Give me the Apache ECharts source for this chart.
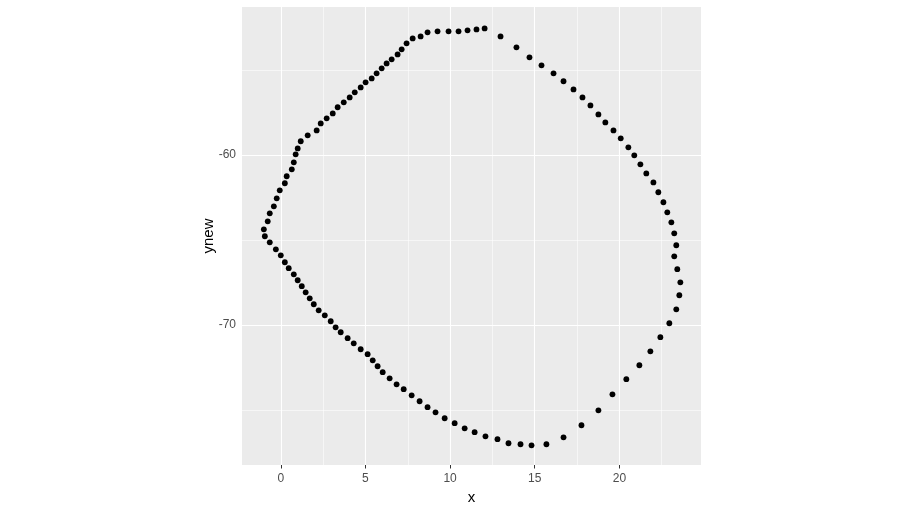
<!DOCTYPE html>
<html><head><meta charset="utf-8">
<script src="https://cdn.jsdelivr.net/npm/echarts@6/dist/echarts.min.js"></script>
<style>html,body{margin:0;padding:0;background:#fff}#c{width:898px;height:511px}</style>
</head><body><div id="c"></div>
<script>
const xs = [
  0.88,1.00,1.18,1.59,2.12,2.36,2.71,3.07,3.36,3.72,4.07,4.37,4.72,5.01,5.37,5.66,5.96,6.25,6.55,6.90,7.14,7.43,7.79,8.26,8.67,9.26,9.91,10.50,11.03,11.56,12.04,
  12.98,13.92,14.69,15.40,16.11,16.70,17.29,17.82,18.29,18.76,19.17,19.65,20.08,20.53,20.88,21.24,21.59,22.01,22.30,22.60,22.83,23.07,23.24,23.36,23.24,23.42,23.60,23.54,23.36,
  22.95,22.42,21.83,21.18,20.41,19.59,18.76,17.76,16.70,15.69,14.81,14.16,13.45,12.80,12.09,11.45,
  10.86,10.27,9.68,9.14,8.67,8.20,7.73,7.26,6.84,6.43,6.02,5.72,5.43,5.13,4.72,4.31,3.95,3.54,3.24,2.95,2.60,2.24,1.95,1.71,1.47,1.24,1.00,0.77,0.47,0.24,0,-0.29,-0.65,-0.94,
  -1.00,-0.77,-0.65,-0.41,-0.24,-0.06,0.24,0.35,0.65,0.77
];
const ys = [
  -59.96,-59.61,-59.19,-58.84,-58.55,-58.14,-57.84,-57.55,-57.19,-56.90,-56.61,-56.31,-56.02,-55.72,-55.49,-55.19,-54.90,-54.61,-54.37,-54.08,-53.78,-53.43,-53.14,-53.02,-52.78,-52.72,-52.72,-52.72,-52.66,-52.61,-52.55,
  -53.02,-53.66,-54.25,-54.72,-55.19,-55.66,-56.14,-56.61,-57.08,-57.61,-58.08,-58.55,-59.02,-59.55,-60.02,-60.55,-61.08,-61.61,-62.19,-62.78,-63.37,-63.96,-64.61,-65.31,-65.96,-66.72,-67.49,-68.25,-69.08,
  -69.90,-70.72,-71.55,-72.37,-73.19,-74.08,-75.02,-75.90,-76.61,-77.02,-77.08,-77.02,-76.96,-76.72,-76.55,-76.31,
  -76.08,-75.78,-75.49,-75.14,-74.84,-74.49,-74.14,-73.78,-73.49,-73.14,-72.78,-72.43,-72.08,-71.72,-71.43,-71.08,-70.78,-70.43,-70.14,-69.78,-69.43,-69.14,-68.78,-68.43,-68.08,-67.72,-67.37,-67.02,-66.66,-66.31,-65.90,-65.55,-65.14,-64.78,
  -64.37,-63.90,-63.43,-63.02,-62.55,-62.08,-61.66,-61.25,-60.84,-60.43
];
const xMajor = [0, 5, 10, 15, 20];
const xMinor = [2.5, 7.5, 12.5, 17.5, 22.5];
const yMajor = [-70, -60];
const yMinor = [-75, -65, -55];
const xLimits = [-2.29, 24.82];
const yLimits = [-78.24, -51.29];
const xTitle = 'x';
const yTitle = 'ynew';

const chart = echarts.init(document.getElementById('c'), null, {renderer: 'canvas'});
const FONT = '"Liberation Sans", Arial, sans-serif';
const gridLines = [].concat(
  xMinor.map(v => ({xAxis: v, lineStyle: {width: 0.55}})),
  yMinor.map(v => ({yAxis: v, lineStyle: {width: 0.55}})),
  xMajor.map(v => ({xAxis: v, lineStyle: {width: 1.1}})),
  yMajor.map(v => ({yAxis: v, lineStyle: {width: 1.1}}))
);
chart.setOption({
  animation: false,
  backgroundColor: '#ffffff',
  grid: {left: 242, right: 197, top: 7, bottom: 46, show: true, backgroundColor: '#EBEBEB', borderWidth: 0, containLabel: false},
  xAxis: {
    type: 'value', min: xLimits[0], max: xLimits[1],
    name: xTitle, nameLocation: 'middle', nameGap: 23,
    nameTextStyle: {color: '#000', fontSize: 15, fontFamily: FONT},
    axisLine: {show: false},
    axisTick: {show: true, length: 3.5, lineStyle: {color: '#333333', width: 1}, customValues: xMajor},
    axisLabel: {color: '#4D4D4D', fontSize: 12, fontFamily: FONT, margin: 8, customValues: xMajor},
    splitLine: {show: false}
  },
  yAxis: {
    type: 'value', min: yLimits[0], max: yLimits[1],
    name: yTitle, nameLocation: 'middle', nameGap: 26, nameRotate: 90, nameMoveOverlap: false,
    nameTextStyle: {color: '#000', fontSize: 15, fontFamily: FONT},
    axisLine: {show: false},
    axisTick: {show: true, length: 3.5, lineStyle: {color: '#333333', width: 1}, customValues: yMajor},
    axisLabel: {color: '#4D4D4D', fontSize: 12, fontFamily: FONT, margin: 6, customValues: yMajor},
    splitLine: {show: false}
  },
  series: [
    {
      type: 'line', data: [], z: 1, silent: true,
      markLine: {
        z: 1, silent: true, symbol: ['none', 'none'], label: {show: false}, animation: false,
        lineStyle: {color: '#ffffff', type: 'solid'},
        emphasis: {disabled: true},
        data: gridLines
      }
    },
    {
      type: 'scatter', z: 10, symbol: 'circle', symbolSize: 5.8,
      itemStyle: {color: '#000000', opacity: 1},
      data: xs.map((x, i) => [x, ys[i]])
    }
  ]
});
</script></body></html>
